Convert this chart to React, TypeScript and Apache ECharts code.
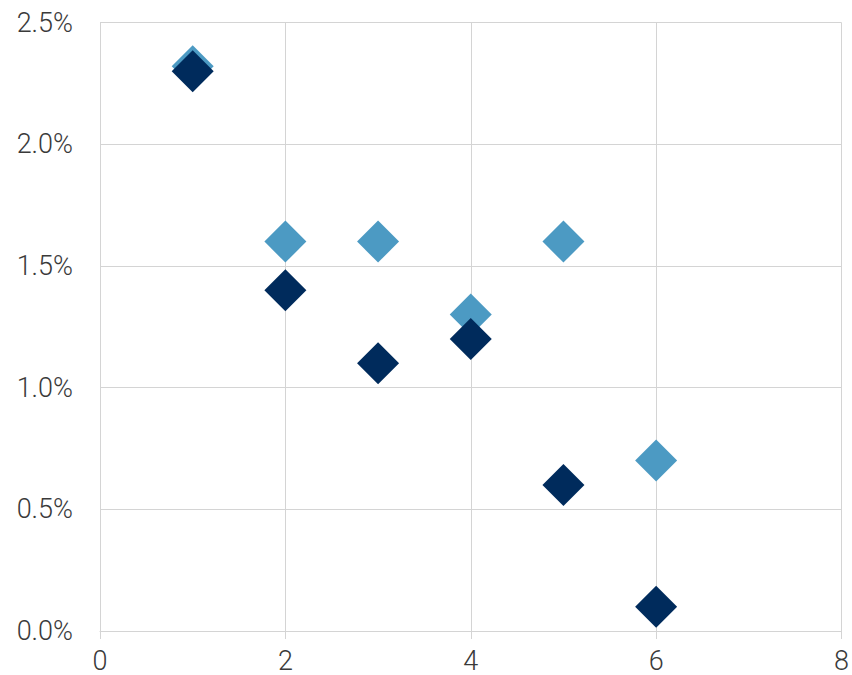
import React, { useEffect, useRef } from "react";
import * as echarts from "echarts";

const seriesLightX = [1, 2, 3, 4, 5, 6];
const seriesLightY = [2.32, 1.6, 1.6, 1.3, 1.6, 0.7];
const seriesDarkX = [1, 2, 3, 4, 5, 6];
const seriesDarkY = [2.3, 1.4, 1.1, 1.2, 0.6, 0.1];

export default function App() {
  const ref = useRef<HTMLDivElement>(null);
  useEffect(() => {
    if (!ref.current) return;
    const chart = echarts.init(ref.current, undefined, { renderer: "svg" });
    const gridColor = "#d4d4d4";
    const textStyle = {
      color: "#3a3a3a",
      fontFamily: "Roboto",
      fontWeight: 300 as any,
      fontSize: 27,
      lineHeight: 27,
    };
    chart.setOption({
      animation: false,
      backgroundColor: "#ffffff",
      grid: { left: 100, right: 7, top: 22.5, bottom: 44, containLabel: false },
      xAxis: {
        type: "value",
        min: 0,
        max: 8,
        interval: 2,
        axisLine: { show: true, lineStyle: { color: gridColor, width: 1 } },
        axisTick: { show: true, length: 8, lineStyle: { color: gridColor } },
        axisLabel: { ...textStyle, margin: 16 },
        splitLine: { show: true, lineStyle: { color: gridColor, width: 1 } },
      },
      yAxis: {
        type: "value",
        min: 0,
        max: 2.5,
        interval: 0.5,
        axisLine: { show: true, lineStyle: { color: gridColor, width: 1 } },
        axisTick: { show: false },
        axisLabel: {
          ...textStyle,
          margin: 27,
          formatter: (v: number) => v.toFixed(1) + "%",
        },
        splitLine: { show: true, lineStyle: { color: gridColor, width: 1 } },
      },
      series: [
        {
          type: "scatter",
          symbol: "diamond",
          symbolSize: 42,
          itemStyle: { color: "#4c9ac3", opacity: 1 },
          data: seriesLightX.map((x, i) => [x, seriesLightY[i]]),
        },
        {
          type: "scatter",
          symbol: "diamond",
          symbolSize: 42,
          itemStyle: { color: "#002b5c", opacity: 1 },
          data: seriesDarkX.map((x, i) => [x, seriesDarkY[i]]),
        },
      ],
    });
    return () => chart.dispose();
  }, []);
  return (
    <div
      ref={ref}
      style={{ position: "fixed", left: 0, top: 0, width: 852, height: 675 }}
    />
  );
}
